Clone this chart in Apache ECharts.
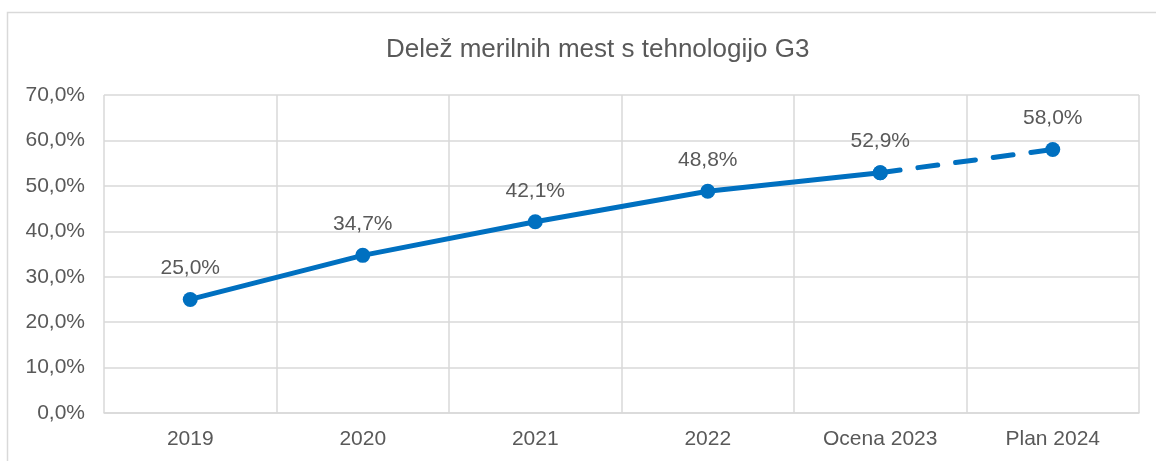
<!DOCTYPE html>
<html>
<head>
<meta charset="utf-8">
<script src="https://cdn.jsdelivr.net/npm/echarts@6/dist/echarts.min.js"></script>
<style>
  html, body { margin: 0; padding: 0; background: #fff; }
  #chart { width: 1156px; height: 461px; }
</style>
</head>
<body>
<div id="chart"></div>
<script>
// podatki
var categories = ["2019", "2020", "2021", "2022", "Ocena 2023", "Plan 2024"];
var actual = [25.0, 34.7, 42.1, 48.8, 52.9, "-"];
var planned = ["-", "-", "-", "-", 52.9, 58.0];
var yTicks = [0, 10, 20, 30, 40, 50, 60, 70];

var blue = "#0070C0";
var txt = "#595959";
var gridCol = "#d9d9d9";

function pct(v) {
  return v.toFixed(1).replace(".", ",") + "%";
}

var chart = echarts.init(document.getElementById("chart"));
chart.setOption({
  animation: false,
  textStyle: { fontFamily: "Liberation Sans, Arial, sans-serif" },
  title: {
    text: "Delež merilnih mest s tehnologijo G3",
    left: 381,
    top: 32,
    textStyle: { color: txt, fontSize: 26, fontWeight: "normal" }
  },
  graphic: [
    {
      type: "rect",
      shape: { x: 7.5, y: 12.5, width: 1300, height: 600 },
      style: { fill: "none", stroke: gridCol, lineWidth: 1.5 },
      silent: true
    }
  ],
  grid: { left: 104, right: 17, top: 95, bottom: 48 },
  xAxis: {
    type: "category",
    data: categories,
    boundaryGap: true,
    axisLine: { lineStyle: { color: gridCol, width: 1.5 } },
    axisTick: { show: false },
    splitLine: { show: true, lineStyle: { color: gridCol, width: 1.5 } },
    axisLabel: { color: txt, fontSize: 21, margin: 16 }
  },
  yAxis: {
    type: "value",
    min: yTicks[0],
    max: yTicks[yTicks.length - 1],
    interval: 10,
    axisLine: { show: false },
    axisTick: { show: false },
    splitLine: { lineStyle: { color: gridCol, width: 1.5 } },
    axisLabel: { color: txt, fontSize: 21, margin: 19, formatter: function (v) { return pct(v); } }
  },
  series: [
    {
      type: "line",
      data: planned,
      symbol: "circle",
      symbolSize: 15,
      itemStyle: { color: blue },
      lineStyle: { color: blue, width: 5, type: [20, 18], cap: "round" },
      label: {
        show: true,
        position: "top",
        distance: 13,
        color: txt,
        fontSize: 21,
        formatter: function (p) { return p.dataIndex === 5 ? pct(p.value) : ""; }
      },
      z: 2
    },
    {
      type: "line",
      data: actual,
      symbol: "circle",
      symbolSize: 15,
      itemStyle: { color: blue },
      lineStyle: { color: blue, width: 5, cap: "round" },
      label: {
        show: true,
        position: "top",
        distance: 13,
        color: txt,
        fontSize: 21,
        formatter: function (p) { return pct(p.value); }
      },
      z: 3
    }
  ]
});
</script>
</body>
</html>
